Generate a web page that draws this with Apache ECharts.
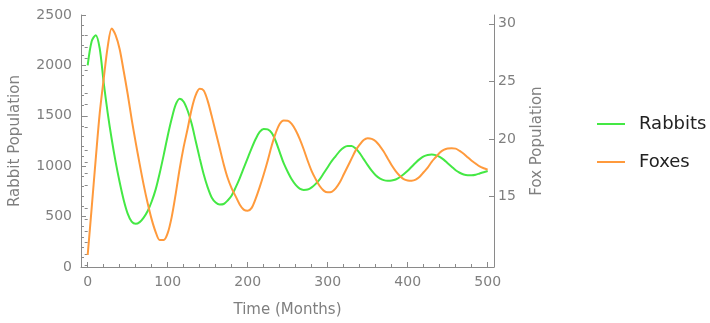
<!DOCTYPE html>
<html>
<head>
<meta charset="utf-8">
<script src="https://cdn.jsdelivr.net/npm/echarts@6/dist/echarts.min.js"></script>
<style>
  html, body { margin: 0; padding: 0; background: #fff; }
  #chart { width: 710px; height: 323px; }
</style>
</head>
<body>
<div id="chart"></div>
<script>
  // time axis (months), sampled every 5 months
  const months = [
    0, 5, 10, 15, 20, 25, 30, 35, 40, 45, 50, 55, 60, 65, 70, 75, 80, 85, 90, 95,
    100, 105, 110, 115, 120, 125, 130, 135, 140, 145, 150, 155, 160, 165, 170, 175, 180, 185, 190, 195,
    200, 205, 210, 215, 220, 225, 230, 235, 240, 245, 250, 255, 260, 265, 270, 275, 280, 285, 290, 295,
    300, 305, 310, 315, 320, 325, 330, 335, 340, 345, 350, 355, 360, 365, 370, 375, 380, 385, 390, 395,
    400, 405, 410, 415, 420, 425, 430, 435, 440, 445, 450, 455, 460, 465, 470, 475, 480, 485, 490, 495,
    500
  ];
  const rabbits = [
    2000, 2240, 2300, 2170, 1830, 1530, 1270, 1040, 840, 665, 530, 450, 428, 445, 490, 555, 650, 770, 930, 1110,
    1300, 1470, 1610, 1670, 1640, 1550, 1420, 1250, 1080, 920, 790, 690, 640, 620, 625, 660, 710, 790, 880, 980,
    1080, 1180, 1270, 1340, 1370, 1365, 1330, 1250, 1140, 1030, 945, 870, 815, 778, 765, 768, 790, 825, 870, 930,
    990, 1050, 1100, 1150, 1185, 1200, 1200, 1175, 1130, 1070, 1010, 955, 910, 880, 862, 856, 858, 868, 890, 920,
    955, 995, 1035, 1070, 1098, 1112, 1116, 1110, 1092, 1065, 1030, 995, 960, 935, 918, 911, 911, 916, 928, 940,
    953
  ];
  const foxes = [
    9.9, 14.0, 18.2, 22.2, 25.2, 28.0, 29.6, 29.0, 27.8, 25.9, 23.9, 21.7, 19.7, 17.8, 16.0, 14.4, 13.0, 11.9, 11.2, 11.2,
    11.8, 13.2, 15.2, 17.4, 19.3, 20.9, 22.6, 23.8, 24.35, 24.2, 23.3, 22.0, 20.6, 19.2, 17.8, 16.6, 15.7, 15.0, 14.3, 13.85,
    13.75, 14.0, 14.8, 15.8, 16.9, 18.1, 19.4, 20.5, 21.3, 21.6, 21.58, 21.3, 20.75, 20.0, 19.1, 18.1, 17.2, 16.5, 15.9, 15.5,
    15.35, 15.4, 15.7, 16.2, 16.9, 17.6, 18.3, 19.0, 19.5, 19.9, 20.05, 20.0, 19.8, 19.4, 18.9, 18.3, 17.7, 17.2, 16.8, 16.5,
    16.38, 16.36, 16.45, 16.7, 17.1, 17.5, 18.0, 18.4, 18.8, 19.05, 19.17, 19.18, 19.15, 18.95, 18.7, 18.4, 18.1, 17.85, 17.6, 17.45,
    17.33
  ];

  // tick positions
  const timeTicks = [0, 100, 200, 300, 400, 500];
  const timeMinorTicks = [20, 40, 60, 80, 120, 140, 160, 180, 220, 240, 260, 280, 320, 340, 360, 380, 420, 440, 460, 480];
  const foxTicks = [15, 20, 25, 30];
  const foxMinorTicks = [9, 10, 11, 12, 13, 14, 16, 17, 18, 19, 21, 22, 23, 24, 26, 27, 28, 29];

  const axisGray = '#8a8a8a';
  const labelGray = '#7f7f7f';
  const font = 'DejaVu Sans';

  const chart = echarts.init(document.getElementById('chart'));
  chart.setOption({
    animation: false,
    grid: { left: 80, right: 216, top: 15, bottom: 51, containLabel: false },
    legend: {
      orient: 'vertical',
      left: 597,
      top: 115,
      padding: 0,
      icon: 'rect',
      itemWidth: 28,
      itemHeight: 2,
      itemGap: 20,
      textStyle: { fontFamily: font, fontSize: 18, color: '#222', padding: [0, 0, 0, 9] },
      data: ['Rabbits', 'Foxes']
    },
    xAxis: [
      {
        type: 'value',
        min: -8.35,
        max: 507.9,
        name: 'Time (Months)',
        nameLocation: 'middle',
        nameGap: 36,
        nameTextStyle: { fontFamily: font, fontSize: 15, color: labelGray },
        splitLine: { show: false },
        axisLine: { show: true, onZero: false, lineStyle: { color: axisGray, width: 1 } },
        axisTick: { show: true, inside: true, length: 5, customValues: timeTicks, lineStyle: { color: axisGray } },
        axisLabel: { customValues: timeTicks, fontFamily: font, fontSize: 14, color: labelGray, margin: 8 }
      },
      {
        type: 'value',
        position: 'bottom',
        min: -8.35,
        max: 507.9,
        splitLine: { show: false },
        axisLine: { show: false },
        axisTick: { show: true, inside: true, length: 3, customValues: timeMinorTicks, lineStyle: { color: axisGray } },
        axisLabel: { show: false }
      }
    ],
    yAxis: [
      {
        type: 'value',
        min: 0,
        max: 2500,
        interval: 500,
        position: 'left',
        name: 'Rabbit Population',
        nameLocation: 'middle',
        nameRotate: 90,
        nameGap: 58,
        nameTextStyle: { fontFamily: font, fontSize: 15, color: labelGray },
        splitLine: { show: false },
        axisLine: { show: true, onZero: false, lineStyle: { color: axisGray, width: 1 } },
        axisTick: { show: true, inside: true, length: 5, lineStyle: { color: axisGray } },
        minorTick: { show: true, splitNumber: 5, length: 3, lineStyle: { color: axisGray } },
        axisLabel: { fontFamily: font, fontSize: 14, color: labelGray, margin: 9, formatter: v => String(v) }
      },
      {
        type: 'value',
        min: 8.86,
        max: 30.77,
        position: 'right',
        name: 'Fox Population',
        nameLocation: 'middle',
        nameRotate: 90,
        nameGap: 36,
        nameTextStyle: { fontFamily: font, fontSize: 15, color: labelGray },
        splitLine: { show: false },
        axisLine: { show: true, onZero: false, lineStyle: { color: axisGray, width: 1 } },
        axisTick: { show: true, inside: true, length: 5, customValues: foxTicks, lineStyle: { color: axisGray } },
        axisLabel: { customValues: foxTicks, fontFamily: font, fontSize: 14, color: labelGray, margin: 4 }
      },
      {
        type: 'value',
        min: 8.86,
        max: 30.77,
        position: 'right',
        splitLine: { show: false },
        axisLine: { show: false },
        axisTick: { show: true, inside: true, length: 3, customValues: foxMinorTicks, lineStyle: { color: axisGray } },
        axisLabel: { show: false }
      }
    ],
    series: [
      {
        name: 'Rabbits',
        type: 'line',
        xAxisIndex: 0,
        yAxisIndex: 0,
        smooth: 0.3,
        symbol: 'none',
        itemStyle: { color: '#44e844' },
        lineStyle: { color: '#44e844', width: 2 },
        data: months.map((m, i) => [m, rabbits[i]])
      },
      {
        name: 'Foxes',
        type: 'line',
        xAxisIndex: 0,
        yAxisIndex: 1,
        smooth: 0.3,
        symbol: 'none',
        itemStyle: { color: '#ff9a3c' },
        lineStyle: { color: '#ff9a3c', width: 2 },
        data: months.map((m, i) => [m, foxes[i]])
      }
    ]
  });
</script>
</body>
</html>
